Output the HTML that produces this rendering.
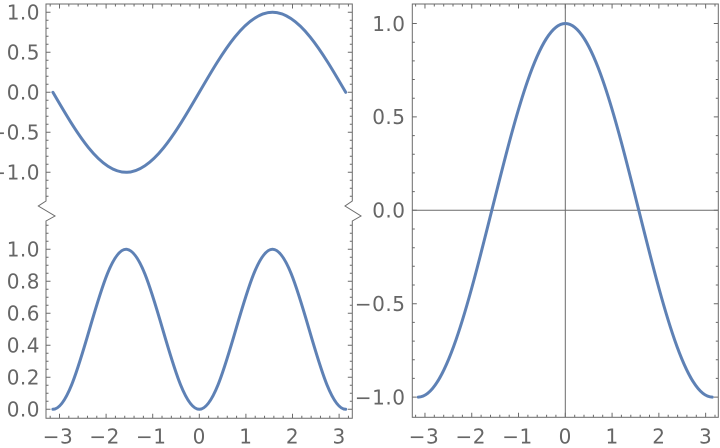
<!DOCTYPE html>
<html><head><meta charset="utf-8"><style>
html,body{margin:0;padding:0;background:#fff;}
svg{display:block;}
text{font-family:"DejaVu Sans","Liberation Sans",sans-serif;font-size:20px;fill:#666;letter-spacing:0.5px;}
</style></head><body>
<svg width="720" height="448" viewBox="0 0 720 448" xmlns="http://www.w3.org/2000/svg">
<g fill="none" stroke="#6a6a6a" stroke-width="1">
<path d="M46,4 H352.3 V201 L345,206 L361,216 L352.3,221 V418.3 H46 V221 L55,216 L38.3,206 L46,201 Z"/>
<path d="M59.5,418.3v-4.5M106.1,418.3v-4.5M152.7,418.3v-4.5M199.3,418.3v-4.5M245.9,418.3v-4.5M292.5,418.3v-4.5M339.1,418.3v-4.5
M59.5,4v4.5M106.1,4v4.5M152.7,4v4.5M199.3,4v4.5M245.9,4v4.5M292.5,4v4.5M339.1,4v4.5"/>
<path d="M50.18,418.3v-2.5M68.82,418.3v-2.5M78.14,418.3v-2.5M87.46,418.3v-2.5M96.78,418.3v-2.5M115.42,418.3v-2.5M124.74,418.3v-2.5M134.06,418.3v-2.5M143.38,418.3v-2.5M162.02,418.3v-2.5M171.34,418.3v-2.5M180.66,418.3v-2.5M189.98,418.3v-2.5M208.62,418.3v-2.5M217.94,418.3v-2.5M227.26,418.3v-2.5M236.58,418.3v-2.5M255.22,418.3v-2.5M264.54,418.3v-2.5M273.86,418.3v-2.5M283.18,418.3v-2.5M301.82,418.3v-2.5M311.14,418.3v-2.5M320.46,418.3v-2.5M329.78,418.3v-2.5M348.42,418.3v-2.5
M50.18,4v2.5M68.82,4v2.5M78.14,4v2.5M87.46,4v2.5M96.78,4v2.5M115.42,4v2.5M124.74,4v2.5M134.06,4v2.5M143.38,4v2.5M162.02,4v2.5M171.34,4v2.5M180.66,4v2.5M189.98,4v2.5M208.62,4v2.5M217.94,4v2.5M227.26,4v2.5M236.58,4v2.5M255.22,4v2.5M264.54,4v2.5M273.86,4v2.5M283.18,4v2.5M301.82,4v2.5M311.14,4v2.5M320.46,4v2.5M329.78,4v2.5M348.42,4v2.5"/>
<path d="M46,12.3h4.5M46,52.3h4.5M46,92.3h4.5M46,132.3h4.5M46,172.3h4.5
M352.3,12.3h-4.5M352.3,52.3h-4.5M352.3,92.3h-4.5M352.3,132.3h-4.5M352.3,172.3h-4.5"/>
<path d="M46,20.3h2.5M46,28.3h2.5M46,36.3h2.5M46,44.3h2.5M46,60.3h2.5M46,68.3h2.5M46,76.3h2.5M46,84.3h2.5M46,100.3h2.5M46,108.3h2.5M46,116.3h2.5M46,124.3h2.5M46,140.3h2.5M46,148.3h2.5M46,156.3h2.5M46,164.3h2.5M46,180.3h2.5M46,188.3h2.5M46,196.3h2.5
M352.3,20.3h-2.5M352.3,28.3h-2.5M352.3,36.3h-2.5M352.3,44.3h-2.5M352.3,60.3h-2.5M352.3,68.3h-2.5M352.3,76.3h-2.5M352.3,84.3h-2.5M352.3,100.3h-2.5M352.3,108.3h-2.5M352.3,116.3h-2.5M352.3,124.3h-2.5M352.3,140.3h-2.5M352.3,148.3h-2.5M352.3,156.3h-2.5M352.3,164.3h-2.5M352.3,180.3h-2.5M352.3,188.3h-2.5M352.3,196.3h-2.5"/>
<path d="M46,409.3h4.5M46,377.3h4.5M46,345.3h4.5M46,313.3h4.5M46,281.3h4.5M46,249.3h4.5
M352.3,409.3h-4.5M352.3,377.3h-4.5M352.3,345.3h-4.5M352.3,313.3h-4.5M352.3,281.3h-4.5M352.3,249.3h-4.5"/>
<path d="M46,401.3h2.5M46,393.3h2.5M46,385.3h2.5M46,369.3h2.5M46,361.3h2.5M46,353.3h2.5M46,337.3h2.5M46,329.3h2.5M46,321.3h2.5M46,305.3h2.5M46,297.3h2.5M46,289.3h2.5M46,273.3h2.5M46,265.3h2.5M46,257.3h2.5M46,241.3h2.5M46,233.3h2.5M46,225.3h2.5
M352.3,401.3h-2.5M352.3,393.3h-2.5M352.3,385.3h-2.5M352.3,369.3h-2.5M352.3,361.3h-2.5M352.3,353.3h-2.5M352.3,337.3h-2.5M352.3,329.3h-2.5M352.3,321.3h-2.5M352.3,305.3h-2.5M352.3,297.3h-2.5M352.3,289.3h-2.5M352.3,273.3h-2.5M352.3,265.3h-2.5M352.3,257.3h-2.5M352.3,241.3h-2.5M352.3,233.3h-2.5M352.3,225.3h-2.5"/>

<rect x="412.3" y="4" width="306" height="413.3"/>
<path d="M565.3,4V417.3M412.3,210.3H718.3"/>
<path d="M424.96,417.3v-4.5M471.74,417.3v-4.5M518.52,417.3v-4.5M565.3,417.3v-4.5M612.08,417.3v-4.5M658.86,417.3v-4.5M705.64,417.3v-4.5
M424.96,4v4.5M471.74,4v4.5M518.52,4v4.5M565.3,4v4.5M612.08,4v4.5M658.86,4v4.5M705.64,4v4.5"/>
<path d="M415.6,417.3v-2.5M434.3,417.3v-2.5M443.7,417.3v-2.5M453,417.3v-2.5M462.4,417.3v-2.5M481.1,417.3v-2.5M490.5,417.3v-2.5M499.8,417.3v-2.5M509.2,417.3v-2.5M527.9,417.3v-2.5M537.2,417.3v-2.5M546.6,417.3v-2.5M555.9,417.3v-2.5M574.7,417.3v-2.5M584,417.3v-2.5M593.4,417.3v-2.5M602.7,417.3v-2.5M621.4,417.3v-2.5M630.8,417.3v-2.5M640.2,417.3v-2.5M649.5,417.3v-2.5M668.2,417.3v-2.5M677.6,417.3v-2.5M686.9,417.3v-2.5M696.3,417.3v-2.5M715,417.3v-2.5
M415.6,4v2.5M434.3,4v2.5M443.7,4v2.5M453,4v2.5M462.4,4v2.5M481.1,4v2.5M490.5,4v2.5M499.8,4v2.5M509.2,4v2.5M527.9,4v2.5M537.2,4v2.5M546.6,4v2.5M555.9,4v2.5M574.7,4v2.5M584,4v2.5M593.4,4v2.5M602.7,4v2.5M621.4,4v2.5M630.8,4v2.5M640.2,4v2.5M649.5,4v2.5M668.2,4v2.5M677.6,4v2.5M686.9,4v2.5M696.3,4v2.5M715,4v2.5"/>
<path d="M412.3,23.5h4.5M412.3,116.9h4.5M412.3,210.3h4.5M412.3,303.7h4.5M412.3,397.1h4.5
M718.3,23.5h-4.5M718.3,116.9h-4.5M718.3,210.3h-4.5M718.3,303.7h-4.5M718.3,397.1h-4.5"/>
<path d="M412.3,42.2h2.5M412.3,60.9h2.5M412.3,79.5h2.5M412.3,98.2h2.5M412.3,135.6h2.5M412.3,154.3h2.5M412.3,172.9h2.5M412.3,191.6h2.5M412.3,229h2.5M412.3,247.7h2.5M412.3,266.3h2.5M412.3,285h2.5M412.3,322.4h2.5M412.3,341.1h2.5M412.3,359.7h2.5M412.3,378.4h2.5
M718.3,42.2h-2.5M718.3,60.9h-2.5M718.3,79.5h-2.5M718.3,98.2h-2.5M718.3,135.6h-2.5M718.3,154.3h-2.5M718.3,172.9h-2.5M718.3,191.6h-2.5M718.3,229h-2.5M718.3,247.7h-2.5M718.3,266.3h-2.5M718.3,285h-2.5M718.3,322.4h-2.5M718.3,341.1h-2.5M718.3,359.7h-2.5M718.3,378.4h-2.5"/>
</g>

<g fill="none" stroke="#5e81b5" stroke-width="3" stroke-linecap="round" stroke-linejoin="round">
<path d="M52.9,92.3 C76.77,133.28 99.61,172.3 126.1,172.3 C152.59,172.3 175.43,133.28 199.3,92.3 C223.17,51.32 246.01,12.3 272.5,12.3 C298.99,12.3 321.83,51.32 345.7,92.3"/>
<path d="M52.9,409.3 C66.15,409.3 77.56,370.28 89.5,329.3 C101.44,288.32 112.86,249.3 126.1,249.3 C139.35,249.3 150.76,288.32 162.7,329.3 C174.64,370.28 186.05,409.3 199.3,409.3 C212.55,409.3 223.96,370.28 235.9,329.3 C247.84,288.32 259.25,249.3 272.5,249.3 C285.75,249.3 297.16,288.32 309.1,329.3 C321.04,370.28 332.45,409.3 345.7,409.3"/>
<path d="M418.34,397.1 C444.93,397.1 467.85,306 491.82,210.3 C515.78,114.6 538.71,23.5 565.3,23.5 C591.89,23.5 614.82,114.6 638.78,210.3 C662.75,306 685.67,397.1 712.26,397.1"/>
</g>

<g text-anchor="end">
<text x="40" y="19.5">1.0</text>
<text x="40" y="59.5">0.5</text>
<text x="40" y="99.5">0.0</text>
<text x="40" y="139.5">−0.5</text>
<text x="40" y="179.5">−1.0</text>
<text x="40" y="256.5">1.0</text>
<text x="40" y="288.5">0.8</text>
<text x="40" y="320.5">0.6</text>
<text x="40" y="352.5">0.4</text>
<text x="40" y="384.5">0.2</text>
<text x="40" y="416.5">0.0</text>
<text x="405.5" y="31">1.0</text>
<text x="405.5" y="124">0.5</text>
<text x="405.5" y="217.5">0.0</text>
<text x="405.5" y="311">−0.5</text>
<text x="405.5" y="404.5">−1.0</text>
</g>
<g text-anchor="middle">
<text x="58" y="443.5">−3</text>
<text x="104.6" y="443.5">−2</text>
<text x="151.2" y="443.5">−1</text>
<text x="199.3" y="443.5">0</text>
<text x="245.9" y="443.5">1</text>
<text x="292.5" y="443.5">2</text>
<text x="339.1" y="443.5">3</text>
<text x="424" y="443.5">−3</text>
<text x="470.8" y="443.5">−2</text>
<text x="517.5" y="443.5">−1</text>
<text x="565.3" y="443.5">0</text>
<text x="612.1" y="443.5">1</text>
<text x="658.9" y="443.5">2</text>
<text x="705.6" y="443.5">3</text>
</g>
</svg>
</body></html>
